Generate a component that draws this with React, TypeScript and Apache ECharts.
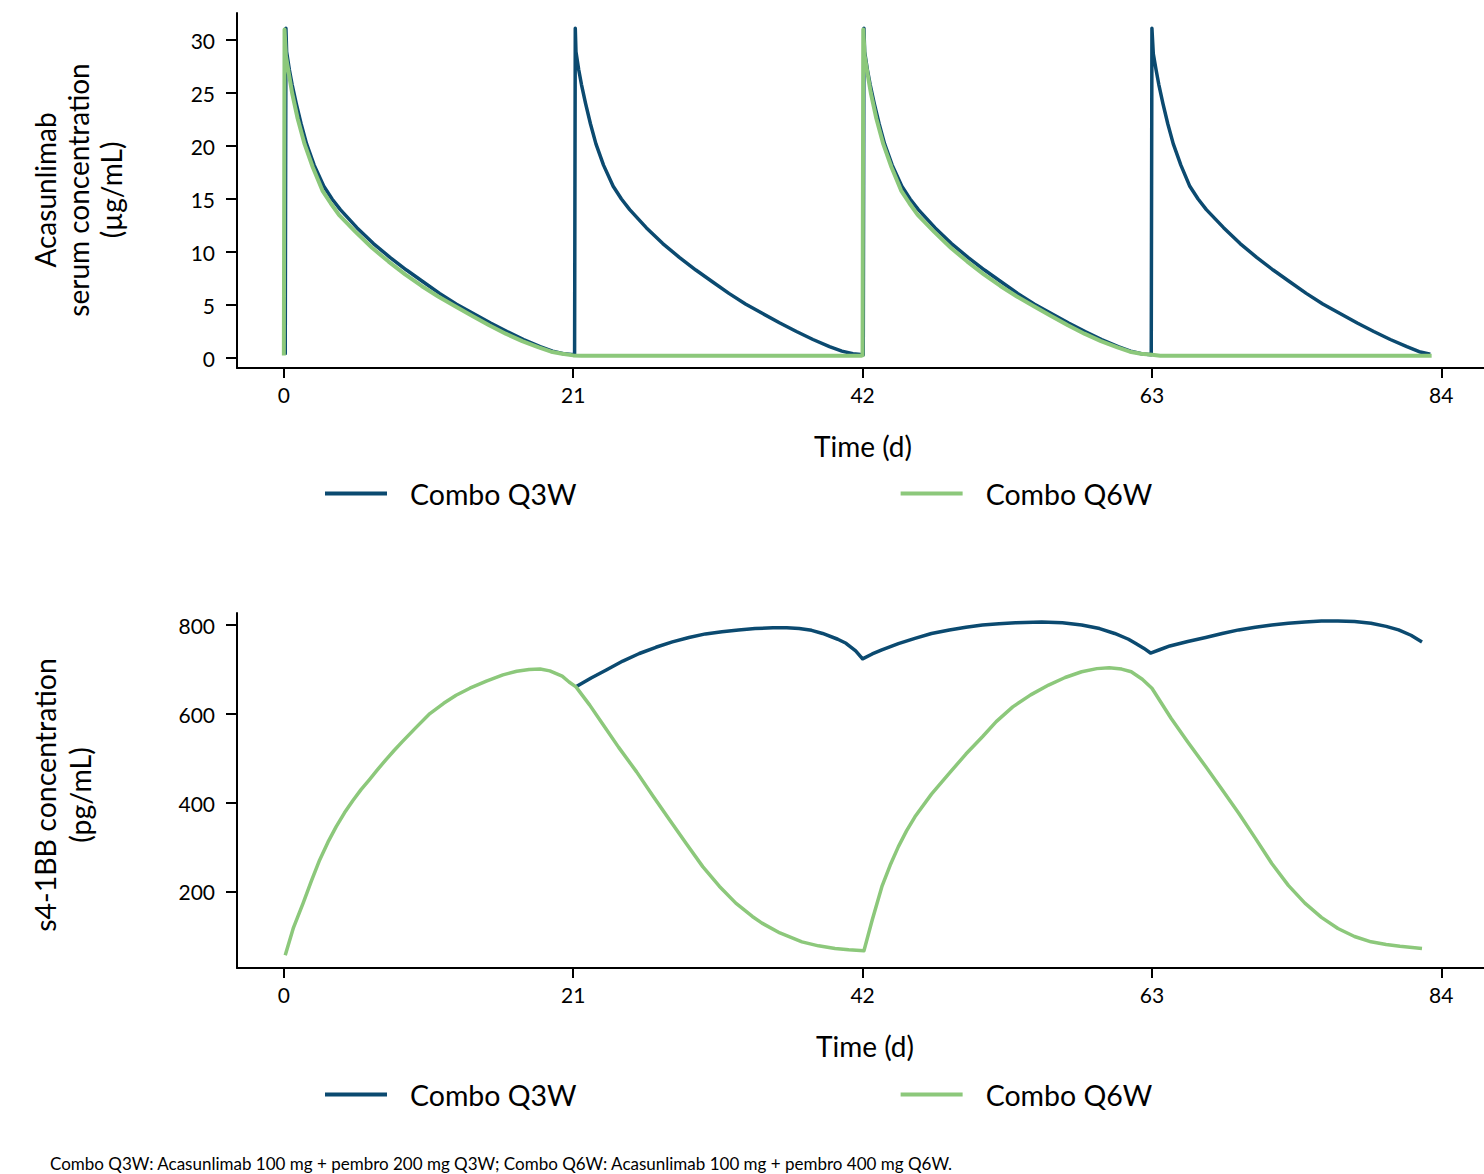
import React, { useEffect, useRef } from "react";
import * as echarts from "echarts";

const DARK = "#0b4a70";
const GREEN = "#8cc87b";

const xTicks = [0, 21, 42, 63, 84];
const yTicksTop = [0, 5, 10, 15, 20, 25, 30];
const yTicksBottom = [200, 400, 600, 800];

const seriesNames = ["Combo Q3W", "Combo Q6W"];

// Acasunlimab serum concentration (µg/mL), Combo Q3W
const pkQ3W: [number, number][] = [
  [0.1, 0.3], [0.15, 31.1], [0.2, 28.9], [0.4, 27.2], [0.6, 25.8], [0.9, 24.0], [1.25, 22.1], [1.65, 20.2],
  [2.2, 18.2], [2.9, 16.2], [3.5, 15.0], [4.1, 14.0], [5.3, 12.3], [6.5, 10.8], [7.7, 9.5], [8.9, 8.3],
  [10.1, 7.2], [11.3, 6.1], [12.5, 5.1], [13.75, 4.2], [15.0, 3.3], [16.2, 2.5], [17.4, 1.75], [18.6, 1.07],
  [19.5, 0.65], [20.3, 0.4], [21.1, 0.3],
  [21.15, 31.1], [21.2, 28.9], [21.4, 27.2], [21.6, 25.8], [21.9, 24.0], [22.25, 22.1], [22.65, 20.2],
  [23.2, 18.2], [23.9, 16.2], [24.5, 15.0], [25.1, 14.0], [26.3, 12.3], [27.5, 10.8], [28.7, 9.5], [29.9, 8.3],
  [31.1, 7.2], [32.3, 6.1], [33.5, 5.1], [34.75, 4.2], [36.0, 3.3], [37.2, 2.5], [38.4, 1.75], [39.6, 1.07],
  [40.5, 0.65], [41.3, 0.4], [42.05, 0.3],
  [42.1, 31.1], [42.15, 28.9], [42.35, 27.2], [42.55, 25.8], [42.85, 24.0], [43.2, 22.1], [43.6, 20.2],
  [44.15, 18.2], [44.85, 16.2], [45.45, 15.0], [46.05, 14.0], [47.25, 12.3], [48.45, 10.8], [49.65, 9.5], [50.85, 8.3],
  [52.05, 7.2], [53.25, 6.1], [54.45, 5.1], [55.7, 4.2], [56.95, 3.3], [58.15, 2.5], [59.35, 1.75], [60.55, 1.07],
  [61.45, 0.65], [62.25, 0.4], [62.95, 0.3],
  [63.0, 31.1], [63.1, 28.7], [63.3, 27.2], [63.5, 25.8], [63.8, 24.0], [64.15, 22.1], [64.55, 20.2],
  [65.1, 18.2], [65.75, 16.2], [66.35, 15.0], [66.95, 14.0], [68.2, 12.3], [69.4, 10.8], [70.6, 9.5], [71.8, 8.3],
  [73.0, 7.2], [74.2, 6.1], [75.4, 5.1], [76.65, 4.2], [77.9, 3.3], [79.1, 2.5], [80.3, 1.75], [81.5, 1.07],
  [82.4, 0.6], [83.2, 0.35],
];

// Acasunlimab serum concentration (µg/mL), Combo Q6W
const pkQ6W: [number, number][] = [
  [0.0, 0.25], [0.05, 31.0], [0.15, 28.5], [0.3, 27.3], [0.6, 25.0], [1.0, 22.6], [1.5, 20.2], [2.1, 18.0],
  [2.8, 15.8], [3.4, 14.6], [4.0, 13.5], [5.2, 11.9], [6.4, 10.4], [7.6, 9.1], [8.8, 7.9], [10.0, 6.8],
  [11.2, 5.8], [12.4, 4.9], [13.65, 4.0], [14.9, 3.1], [16.1, 2.3], [17.3, 1.6], [18.5, 1.0], [19.4, 0.6],
  [20.2, 0.4], [21.0, 0.25], [21.6, 0.22], [30.0, 0.22], [41.9, 0.22],
  [42.0, 0.25], [42.05, 31.0], [42.15, 28.5], [42.3, 27.3], [42.6, 25.0], [43.0, 22.6], [43.5, 20.2], [44.1, 18.0],
  [44.8, 15.8], [45.4, 14.6], [46.0, 13.5], [47.2, 11.9], [48.4, 10.4], [49.6, 9.1], [50.8, 7.9], [52.0, 6.8],
  [53.2, 5.8], [54.4, 4.9], [55.65, 4.0], [56.9, 3.1], [58.1, 2.3], [59.3, 1.6], [60.5, 1.0], [61.4, 0.6],
  [62.2, 0.4], [63.0, 0.3], [63.6, 0.22], [75.0, 0.22], [83.3, 0.22],
];

// s4-1BB concentration (pg/mL), Combo Q3W (identical to Q6W before day 21)
const sQ3W: [number, number][] = [
  [21.2, 661], [22.3, 681], [23.4, 699], [24.6, 719], [25.8, 736], [27.0, 750], [28.2, 762], [29.4, 772],
  [30.6, 780], [31.8, 785], [33.0, 789], [34.2, 792], [35.5, 794], [36.5, 794], [37.4, 792], [38.3, 788],
  [39.1, 781], [40.2, 768], [40.8, 759], [41.5, 742], [42.0, 724], [42.7, 735], [43.4, 744], [44.6, 758],
  [45.8, 770], [47.0, 781], [48.3, 789], [49.5, 795], [50.7, 800], [51.9, 803], [53.1, 805], [55.0, 807],
  [56.5, 805], [57.9, 800], [59.2, 792], [60.3, 781], [61.3, 768], [61.8, 759], [62.4, 748], [62.9, 737],
  [63.6, 745], [64.3, 753], [65.6, 763], [66.9, 772], [68.1, 781], [69.3, 789], [70.5, 795], [71.7, 800],
  [72.9, 804], [74.1, 807], [75.3, 809], [76.5, 809], [77.7, 808], [78.9, 804], [80.0, 797], [80.9, 789],
  [81.8, 777], [82.6, 762],
];

// s4-1BB concentration (pg/mL), Combo Q6W
const sQ6W: [number, number][] = [
  [0.1, 58], [0.7, 120], [1.4, 175], [2.0, 225], [2.6, 272], [3.2, 312], [3.8, 347], [4.4, 378], [5.0, 405],
  [5.6, 430], [6.2, 452], [6.8, 475], [7.4, 497], [8.0, 518], [8.6, 538], [9.6, 570], [10.6, 601], [11.6, 624],
  [12.5, 642], [13.5, 658], [14.7, 674], [15.9, 688], [16.9, 696], [17.8, 700], [18.6, 701], [19.3, 697],
  [20.2, 685], [20.7, 672], [21.2, 661], [22.2, 620], [23.1, 579], [24.3, 525], [25.6, 470], [26.8, 415],
  [28.0, 362], [29.2, 309], [30.4, 257], [31.6, 213], [32.8, 175], [34.0, 145], [34.7, 130], [36.0, 108],
  [37.6, 88], [38.8, 79], [40.0, 73], [41.0, 70], [42.1, 68], [42.7, 137], [43.4, 212], [44.0, 260],
  [44.6, 302], [45.2, 338], [45.8, 369], [47.0, 420], [48.3, 467], [49.5, 510], [50.7, 549], [51.7, 583],
  [52.9, 616], [54.2, 643], [55.5, 665], [56.7, 682], [57.9, 695], [59.0, 702], [59.9, 704], [60.8, 701],
  [61.5, 695], [62.3, 678], [63.0, 658], [64.4, 590], [65.6, 537], [66.9, 482], [68.1, 430], [69.3, 377],
  [70.5, 321], [71.7, 264], [72.9, 215], [74.1, 175], [75.3, 143], [76.5, 118], [77.7, 100], [78.9, 88],
  [80.0, 82], [81.0, 78], [82.6, 73],
];

const FONT = "Lato";

function makeXAxis(gridIndex: number) {
  return {
    type: "value",
    gridIndex,
    min: -3.4,
    max: 87.1,
    splitLine: { show: false },
    axisLine: { show: true, onZero: false, lineStyle: { color: "#000", width: 2 } },
    axisTick: { show: true, length: 10, customValues: xTicks, lineStyle: { color: "#000", width: 2 } },
    axisLabel: { customValues: xTicks, color: "#000", fontSize: 21, fontFamily: FONT, margin: 16 },
  };
}

function makeYAxis(gridIndex: number, min: number, max: number, ticks: number[]) {
  return {
    type: "value",
    gridIndex,
    min,
    max,
    splitLine: { show: false },
    axisLine: { show: true, onZero: false, lineStyle: { color: "#000", width: 2 } },
    axisTick: { show: true, length: 11, customValues: ticks, lineStyle: { color: "#000", width: 2 } },
    axisLabel: { customValues: ticks, color: "#000", fontSize: 21, fontFamily: FONT, margin: 22 },
  };
}

function makeLegend(top: number) {
  return {
    top,
    left: 320,
    orient: "horizontal",
    icon: "rect",
    itemWidth: 62,
    itemHeight: 4,
    itemGap: 324,
    data: seriesNames,
    textStyle: { color: "#000", fontSize: 28.5, fontFamily: FONT, padding: [0, 0, 0, 18] },
    selectedMode: false,
  };
}

const lineCommon = { showSymbol: false, symbol: "none", smooth: false };

export default function App() {
  const ref = useRef<HTMLDivElement>(null);
  useEffect(() => {
    if (!ref.current) return;
    const chart = echarts.init(ref.current, null, { renderer: "svg" });
    chart.setOption({
      animation: false,
      backgroundColor: "#fff",
      grid: [
        { left: 237, top: 13, width: 1247, height: 355 },
        { left: 237, top: 613, width: 1247, height: 355 },
      ],
      xAxis: [makeXAxis(0), makeXAxis(1)],
      yAxis: [
        makeYAxis(0, -0.94, 32.55, yTicksTop),
        makeYAxis(1, 29.2, 827, yTicksBottom),
      ],
      legend: [makeLegend(474), makeLegend(1075)],
      series: [
        {
          name: seriesNames[0], type: "line", xAxisIndex: 0, yAxisIndex: 0, data: pkQ3W, ...lineCommon,
          color: DARK, lineStyle: { color: DARK, width: 3.5, join: "round" },
        },
        {
          name: seriesNames[1], type: "line", xAxisIndex: 0, yAxisIndex: 0, data: pkQ6W, ...lineCommon,
          color: GREEN, lineStyle: { color: GREEN, width: 4, join: "round" },
        },
        {
          name: seriesNames[0], type: "line", xAxisIndex: 1, yAxisIndex: 1, data: sQ3W, ...lineCommon,
          color: DARK, lineStyle: { color: DARK, width: 3.5, join: "round" },
        },
        {
          name: seriesNames[1], type: "line", xAxisIndex: 1, yAxisIndex: 1, data: sQ6W, ...lineCommon,
          color: GREEN, lineStyle: { color: GREEN, width: 3.5, join: "round" },
        },
      ],
      graphic: [
        {
          type: "text", x: 78, y: 190, rotation: Math.PI / 2,
          style: {
            text: "Acasunlimab\nserum concentration\n(µg/mL)", fill: "#000", fontSize: 28, fontFamily: FONT,
            align: "center", verticalAlign: "middle", lineHeight: 33,
          },
        },
        {
          type: "text", x: 62, y: 795, rotation: Math.PI / 2,
          style: {
            text: "s4-1BB concentration\n(pg/mL)", fill: "#000", fontSize: 28.5, fontFamily: FONT,
            align: "center", verticalAlign: "middle", lineHeight: 35,
          },
        },
        {
          type: "text", x: 863, y: 446,
          style: { text: "Time (d)", fill: "#000", fontSize: 28, fontFamily: FONT, align: "center", verticalAlign: "middle" },
        },
        {
          type: "text", x: 865, y: 1046,
          style: { text: "Time (d)", fill: "#000", fontSize: 28, fontFamily: FONT, align: "center", verticalAlign: "middle" },
        },
        {
          type: "text", x: 50, y: 1163,
          style: {
            text: "Combo Q3W: Acasunlimab 100 mg + pembro 200 mg Q3W; Combo Q6W: Acasunlimab 100 mg + pembro 400 mg Q6W.",
            fill: "#000", fontSize: 17, fontFamily: FONT, align: "left", verticalAlign: "middle",
          },
        },
      ],
    });
    return () => chart.dispose();
  }, []);
  return <div ref={ref} style={{ position: "absolute", left: 0, top: 0, width: 1484, height: 1174 }} />;
}
